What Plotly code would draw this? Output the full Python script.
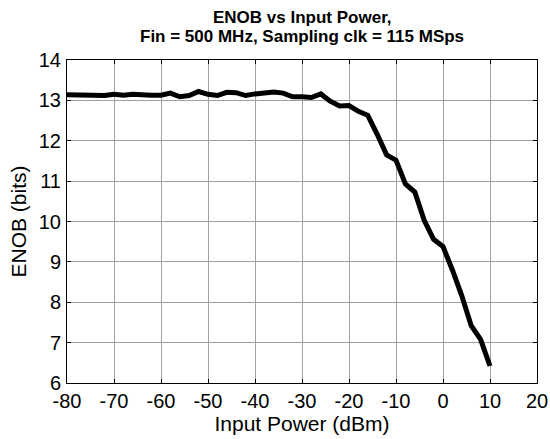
import plotly.graph_objects as go

# Input power sweep (dBm) and measured ENOB (bits)
input_power_dbm = list(range(-80, 12, 2))
enob_bits = [
    13.14, 13.13, 13.12, 13.12, 13.12, 13.15, 13.13, 13.15, 13.13, 13.13,
    13.13, 13.18, 13.09, 13.12, 13.22, 13.15, 13.12, 13.20, 13.19, 13.12,
    13.16, 13.19, 13.21, 13.18, 13.09, 13.09, 13.07, 13.16, 12.98, 12.86,
    12.87, 12.73, 12.63, 12.16, 11.65, 11.52, 10.93, 10.73, 10.03, 9.56,
    9.38, 8.80, 8.16, 7.42, 7.08, 6.42,
]

x_ticks = list(range(-80, 30, 10))
x_tick_labels = [str(v) for v in x_ticks]  # plain hyphen minus signs
y_ticks = list(range(6, 15, 1))
y_tick_labels = [str(v) for v in y_ticks]

title_lines = ["ENOB vs Input Power,", "Fin = 500 MHz, Sampling clk = 115 MSps"]

FONT = "Liberation Sans, Arial, sans-serif"

fig = go.Figure(
    go.Scatter(
        x=input_power_dbm,
        y=enob_bits,
        mode="lines",
        line=dict(color="black", width=5),
        showlegend=False,
    )
)

axis_common = dict(
    showline=True,
    linecolor="black",
    linewidth=1,
    mirror="ticks",
    ticks="inside",
    ticklen=4,
    tickcolor="black",
    showgrid=True,
    gridcolor="#a0a0a0",
    gridwidth=1,
    zeroline=False,
    automargin=False,
    tickfont=dict(family=FONT, size=20, color="black"),
)

fig.update_xaxes(
    range=[-80, 20],
    tickvals=x_ticks,
    ticktext=x_tick_labels,
    title=dict(text="Input Power (dBm)", standoff=0,
               font=dict(family=FONT, size=21, color="black")),
    **axis_common,
)
fig.update_yaxes(
    range=[6, 14],
    tickvals=y_ticks,
    ticktext=y_tick_labels,
    ticklabelstandoff=1,
    title=dict(text="ENOB (bits)", standoff=6,
               font=dict(family=FONT, size=21, color="black")),
    **axis_common,
)

# Two-line bold title, one annotation per line for tight line spacing
title_annotations = [
    dict(
        text=f"<b>{line}</b>",
        xref="paper", yref="paper",
        x=0.5, y=1.0, yshift=43 - 19 * i,
        xanchor="center", yanchor="middle",
        borderpad=0,
        showarrow=False,
        font=dict(family=FONT, size=17, color="black"),
    )
    for i, line in enumerate(title_lines)
]

fig.update_layout(
    width=550,
    height=439,
    margin=dict(l=67, r=13, t=60, b=56),
    paper_bgcolor="white",
    plot_bgcolor="white",
    annotations=title_annotations,
)

fig.write_html("out.html")
